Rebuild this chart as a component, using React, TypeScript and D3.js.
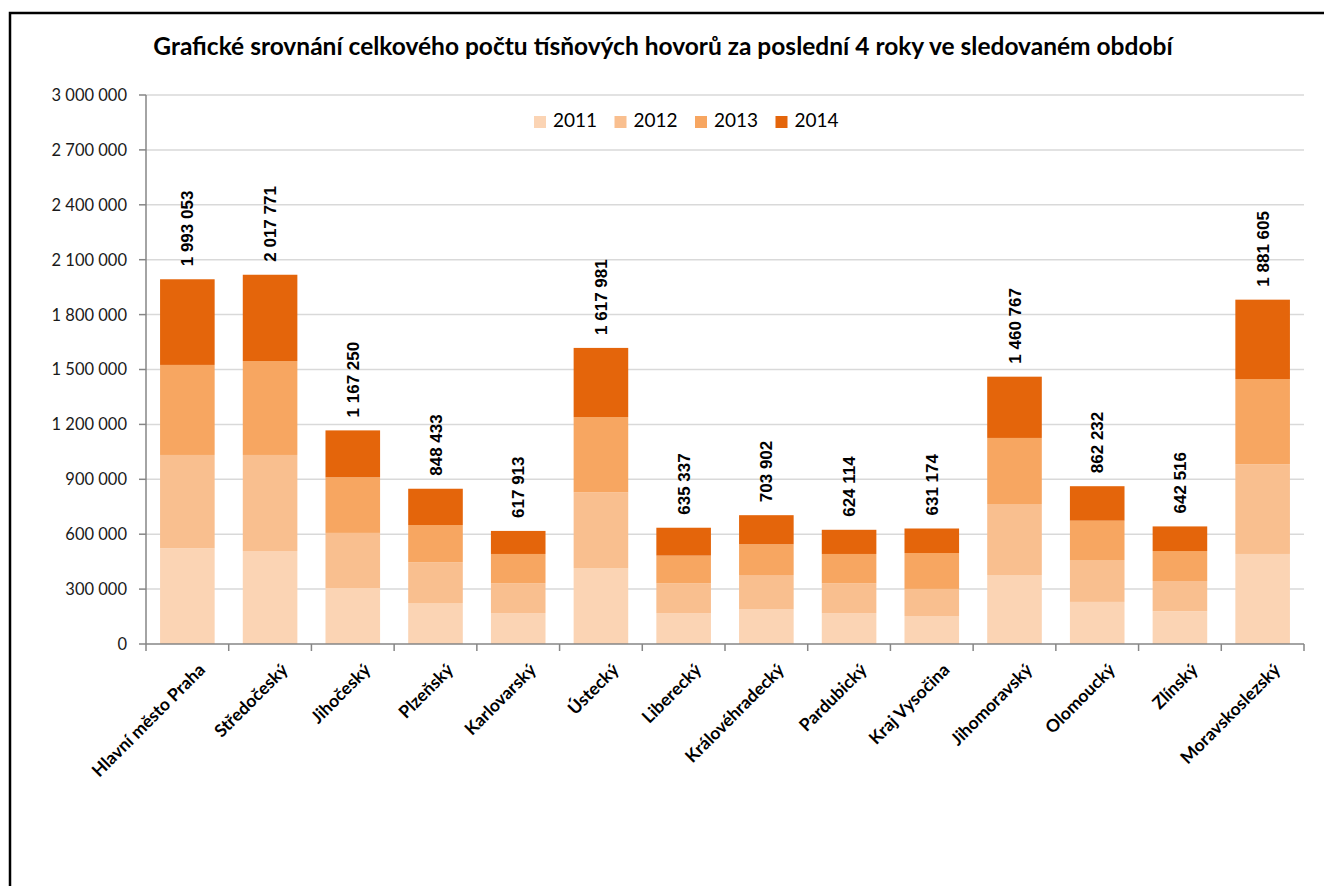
import React from 'react';
import * as d3 from 'd3';

const categories = [
  'Hlavní město Praha',
  'Středočeský',
  'Jihočeský',
  'Plzeňský',
  'Karlovarský',
  'Ústecký',
  'Liberecký',
  'Královéhradecký',
  'Pardubický',
  'Kraj Vysočina',
  'Jihomoravský',
  'Olomoucký',
  'Zlínský',
  'Moravskoslezský',
];

const years = ['2011', '2012', '2013', '2014'];

const v2011 = [523000, 508000, 306000, 224000, 169000, 415000, 169000, 191000, 169000, 153000, 377000, 230000, 179000, 492000];
const v2012 = [510000, 525000, 301000, 222000, 163000, 414000, 163000, 186000, 163000, 148000, 388000, 229000, 165000, 490000];
const v2013 = [492000, 513000, 304000, 204000, 160000, 411000, 151000, 168000, 160000, 196000, 361000, 215000, 164000, 466000];
const v2014 = [468053, 471771, 256250, 198433, 125913, 377981, 152337, 158902, 132114, 134174, 334767, 188232, 134516, 433605];

const totals = [1993053, 2017771, 1167250, 848433, 617913, 1617981, 635337, 703902, 624114, 631174, 1460767, 862232, 642516, 1881605];

const yTicks = [0, 300000, 600000, 900000, 1200000, 1500000, 1800000, 2100000, 2400000, 2700000, 3000000];

const colors = ['#FBD4B4', '#F9BF8F', '#F7A661', '#E4650B'];

const title = 'Grafické srovnání celkového počtu tísňových hovorů za poslední 4 roky ve sledovaném období';

const fmt = d3.formatLocale({ decimal: ',', thousands: '\u00a0', grouping: [3], currency: ['', ''] }).format(',d');

export default function App() {
  const width = 1324;
  const height = 886;
  const margin = { top: 95, right: 20, bottom: 242, left: 146 };

  const rows = categories.map((c, i) => ({
    cat: c,
    '2011': v2011[i],
    '2012': v2012[i],
    '2013': v2013[i],
    '2014': v2014[i],
  }));

  const x = d3
    .scaleBand()
    .domain(categories)
    .range([margin.left, width - margin.right])
    .paddingInner(0.34)
    .paddingOuter(0.17);

  const y = d3
    .scaleLinear()
    .domain([0, 3000000])
    .range([height - margin.bottom, margin.top]);

  // @ts-ignore
  const series = d3.stack().keys(years)(rows);

  const step = x.step();
  const x0 = margin.left;
  const x1 = width - margin.right;
  const y0 = y(0);

  return (
    <svg
      width={width}
      height={height}
      style={{ position: 'absolute', left: 0, top: 0, background: '#fff' }}
    >
      <rect x={10} y={13} width={width + 20} height={height + 20} fill="#fff" stroke="#000" strokeWidth={2.5} />

      <text
        x={663}
        y={55}
        textAnchor="middle"
        fontFamily="Lato"
        fontWeight="bold"
        fontSize={24.5}
        fill="#000"
      >
        {title}
      </text>

      {/* grid */}
      <g className="grid">
        {yTicks.slice(1).map((t) => (
          <line key={t} x1={x0} x2={x1} y1={y(t)} y2={y(t)} stroke="#D9D9D9" strokeWidth={1.5} />
        ))}
      </g>

      {/* bars */}
      <g className="area">
        {series.map((s: any, si: number) => (
          <g key={years[si]} fill={colors[si]}>
            {s.map((d: any, i: number) => (
              <rect
                key={i}
                x={x(categories[i])}
                width={x.bandwidth()}
                y={y(d[1])}
                height={y(d[0]) - y(d[1])}
              />
            ))}
          </g>
        ))}
      </g>

      {/* y axis */}
      <g className="yAxis" fontFamily="Lato" fontSize={16.5} fill="#1a1a1a">
        <line x1={x0} x2={x0} y1={y(3000000)} y2={y0} stroke="#868686" strokeWidth={1.5} />
        {yTicks.map((t) => (
          <g key={t}>
            <line x1={x0 - 7} x2={x0} y1={y(t)} y2={y(t)} stroke="#868686" strokeWidth={1.5} />
            <text x={127} y={y(t)} dy="0.36em" textAnchor="end">
              {fmt(t)}
            </text>
          </g>
        ))}
      </g>

      {/* x axis */}
      <g className="xAxis">
        <line x1={x0} x2={x1} y1={y0} y2={y0} stroke="#868686" strokeWidth={1.5} />
        {d3.range(categories.length + 1).map((i) => (
          <line
            key={i}
            x1={x0 + i * step}
            x2={x0 + i * step}
            y1={y0}
            y2={y0 + 7}
            stroke="#868686"
            strokeWidth={1.5}
          />
        ))}
        {categories.map((c) => {
          const cx = (x(c) as number) + x.bandwidth() / 2;
          return (
            <text
              key={c}
              transform={`translate(${cx + 19},${y0 + 27}) rotate(-45)`}
              textAnchor="end"
              fontFamily="Lato"
              fontWeight="bold"
              fontSize={17.5}
              fill="#000"
            >
              {c}
            </text>
          );
        })}
      </g>

      {/* total labels */}
      <g className="labels">
        {categories.map((c, i) => {
          const cx = (x(c) as number) + x.bandwidth() / 2;
          return (
            <text
              key={c}
              transform={`translate(${cx},${y(totals[i]) - 13}) rotate(-90)`}
              dy="0.36em"
              fontFamily="Liberation Sans"
              fontWeight="bold"
              fontSize={17}
              fill="#000"
            >
              {fmt(totals[i])}
            </text>
          );
        })}
      </g>

      {/* legend */}
      <g className="legend" fontFamily="Lato" fontSize={19} fill="#000">
        {years.map((yr, i) => (
          <g key={yr} transform={`translate(${534 + i * 80.5},116)`}>
            <rect width={12} height={12} fill={colors[i]} />
            <text x={19} y={11}>
              {yr}
            </text>
          </g>
        ))}
      </g>
    </svg>
  );
}
